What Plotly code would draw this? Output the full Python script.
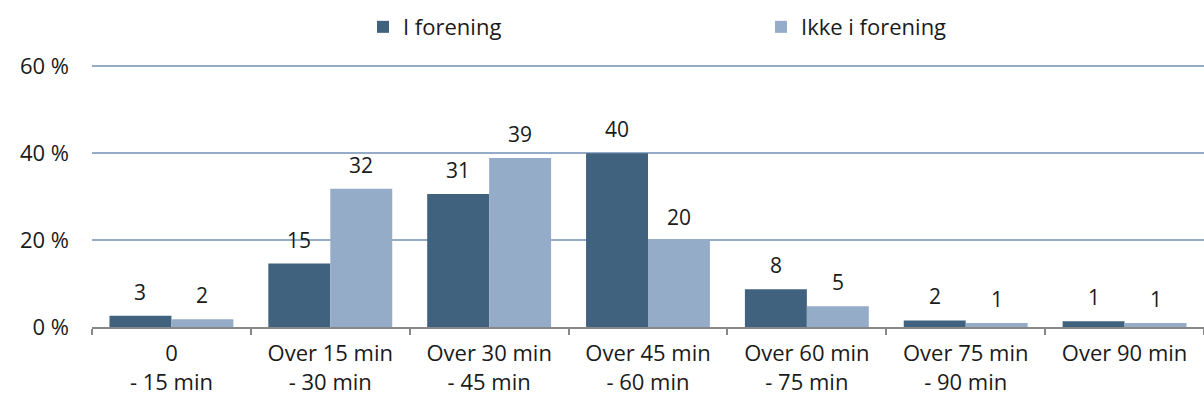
import plotly.graph_objects as go

categories = ["0<br>- 15 min", "Over 15 min<br>- 30 min", "Over 30 min<br>- 45 min",
              "Over 45 min<br>- 60 min", "Over 60 min<br>- 75 min", "Over 75 min<br>- 90 min",
              "Over 90 min"]
i_forening = [2.6, 14.6, 30.6, 40.0, 8.7, 1.5, 1.3]
ikke_forening = [1.8, 31.8, 38.9, 19.8, 4.8, 0.9, 0.9]
i_forening_labels = ["3", "15", "31", "40", "8", "2", "1"]
ikke_forening_labels = ["2", "32", "39", "20", "5", "1", "1"]
y_ticks = [0, 20, 40, 60]
y_tick_labels = ["0 %", "20 %", "40 %", "60 %"]

FONT = "Open Sans, Lato, sans-serif"
DARK = "#40627F"
LIGHT = "#95ACC9"
TXT = "#1a1a1a"

fig = go.Figure()
fig.add_trace(go.Bar(name="I forening", x=categories, y=i_forening, marker_color=DARK,
                     marker_line_width=0))
fig.add_trace(go.Bar(name="Ikke i forening", x=categories, y=ikke_forening, marker_color=LIGHT,
                     marker_line_width=0))

annotations = []
for cat, v, t in zip(categories, i_forening, i_forening_labels):
    annotations.append(dict(x=cat, y=v, text=t, xshift=-31, yshift=8, yanchor="bottom",
                            showarrow=False, font=dict(size=21, color=TXT, family=FONT)))
for cat, v, t in zip(categories, ikke_forening, ikke_forening_labels):
    annotations.append(dict(x=cat, y=v, text=t, xshift=31, yshift=8, yanchor="bottom",
                            showarrow=False, font=dict(size=21, color=TXT, family=FONT)))

fig.update_layout(
    width=1204, height=403,
    margin=dict(l=92, r=0, t=62, b=76, autoexpand=False),
    paper_bgcolor="white", plot_bgcolor="white",
    barmode="group", bargap=0.22, bargroupgap=0,
    font=dict(family=FONT, size=21, color=TXT),
    legend=dict(orientation="h", x=(385 - 92 - 22) / 1112, xanchor="left", yref="container",
                y=0.985, yanchor="top", entrywidth=353, font=dict(size=22), itemwidth=30,
                traceorder="normal"),
    annotations=annotations,
)
fig.update_xaxes(type="category", tickson="boundaries", ticks="outside", ticklen=6,
                 tickcolor="#888888", tickwidth=2, showline=True, linecolor="#888888",
                 linewidth=2, showgrid=False, tickfont=dict(size=22), tickangle=0,
                 ticklabelstandoff=6, automargin=False)
fig.update_yaxes(range=[0, 61], tickvals=y_ticks, ticktext=y_tick_labels, showgrid=True,
                 gridcolor="#95ACC9", gridwidth=2, zeroline=False, showline=False,
                 ticklabelstandoff=22, tickfont=dict(size=22), automargin=False)

fig.write_html("out.html", config={"displayModeBar": False},
               post_script="document.body.style.margin='0px';")
